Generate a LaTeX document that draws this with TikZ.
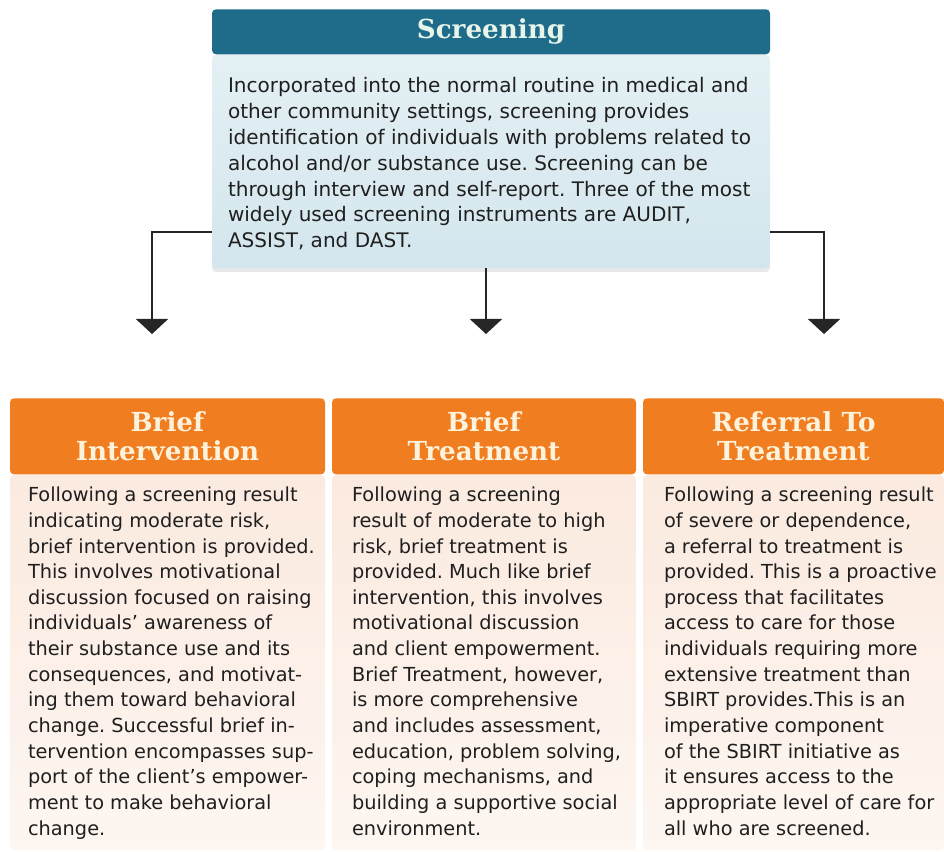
\documentclass[tikz,border=0pt]{standalone}
\usepackage{fontspec}
\setmainfont{DejaVu Sans}
\newfontfamily\headfont{DejaVu Serif}
\usetikzlibrary{arrows.meta, positioning, shadows}
\definecolor{tealhd}{HTML}{1E6B8A}
\definecolor{bluebg}{HTML}{D3E6ED}
\definecolor{bluetop}{HTML}{E4F0F4}
\definecolor{orangehd}{HTML}{F07D1F}
\definecolor{peachtop}{HTML}{FBEADF}
\definecolor{peachbot}{HTML}{FDF6F1}
\definecolor{creamtxt}{HTML}{FDF3DC}
\definecolor{paletxt}{HTML}{E6F4EA}
\tikzset{
    cabeza/.style={minimum height=1.52cm, inner sep=0pt, rounded corners=0.08cm, align=center,
        text=creamtxt, font=\headfont\bfseries\fontsize{14.9}{16.4}\selectfont},
    cuerpo/.style={minimum height=7.5cm, inner sep=0pt, rounded corners=0.08cm,
        top color=peachtop, bottom color=peachbot},
    texto/.style={inner sep=0pt, align=left, text=black!88, font=\fontsize{11}{14.6}\selectfont},
    flecha/.style={line width=1.2pt, draw=black!85, -{Triangle[width=0.64cm, length=0.3cm]}},
}
\frenchspacing

\begin{document}
\begin{tikzpicture}
\useasboundingbox (0,0) rectangle (18.88,-17.04);

% Caja superior: Screening
\node[minimum width=11.16cm, minimum height=4.26cm, inner sep=0pt, rounded corners=0.08cm,
      top color=bluetop, bottom color=bluebg,
      drop shadow={shadow xshift=0pt, shadow yshift=-0.08cm, opacity=0.18}] (screen) at (9.82,-3.23) {};
\node[cabeza, fill=tealhd, minimum width=11.16cm, minimum height=0.9cm, text=paletxt,
      above=0pt of screen] (screenhead) {Screening};
\node[texto, font=\fontsize{11.4}{14.7}\selectfont,
      below right=0.45cm and 0.32cm of screen.north west] (screentext) {%
Incorporated into the normal routine in medical and\\
other community settings, screening provides\\
identification of individuals with problems related to\\
alcohol and/or substance use. Screening can be\\
through interview and self-report. Three of the most\\
widely used screening instruments are AUDIT,\\
ASSIST, and DAST.};

% Cuadro 1: Brief Intervention
\node[cuerpo, minimum width=6.3cm] (bi) at (3.35,-13.25) {};
\node[cabeza, fill=orangehd, minimum width=6.3cm, above=0pt of bi] (bihead) {Brief\\Intervention};
\node[texto, below right=0.24cm and 0.36cm of bi.north west] (bitext) {%
Following a screening result\\
indicating moderate risk,\\
brief intervention is provided.\\
This involves motivational\\
discussion focused on raising\\
individuals’ awareness of\\
their substance use and its\\
consequences, and motivat-\\
ing them toward behavioral\\
change. Successful brief in-\\
tervention encompasses sup-\\
port of the client’s empower-\\
ment to make behavioral\\
change.};

% Cuadro 2: Brief Treatment
\node[cuerpo, minimum width=6.08cm] (bt) at (9.68,-13.25) {};
\node[cabeza, fill=orangehd, minimum width=6.08cm, above=0pt of bt] (bthead) {Brief\\Treatment};
\node[texto, below right=0.24cm and 0.4cm of bt.north west] (bttext) {%
Following a screening\\
result of moderate to high\\
risk, brief treatment is\\
provided. Much like brief\\
intervention, this involves\\
motivational discussion\\
and client empowerment.\\
Brief Treatment, however,\\
is more comprehensive\\
and includes assessment,\\
education, problem solving,\\
coping mechanisms, and\\
building a supportive social\\
environment.};

% Cuadro 3: Referral To Treatment
\node[cuerpo, minimum width=6.02cm] (rt) at (15.87,-13.25) {};
\node[cabeza, fill=orangehd, minimum width=6.02cm, above=0pt of rt] (rthead) {Referral To\\Treatment};
\node[texto, below right=0.24cm and 0.42cm of rt.north west] (rttext) {%
Following a screening result\\
of severe or dependence,\\
a referral to treatment is\\
provided. This is a proactive\\
process that facilitates\\
access to care for those\\
individuals requiring more\\
extensive treatment than\\
SBIRT provides.This is an\\
imperative component\\
of the SBIRT initiative as\\
it ensures access to the\\
appropriate level of care for\\
all who are screened.};

% Flechas
\coordinate (biin) at (3.04,-6.68);
\coordinate (btin) at (9.72,-6.68);
\coordinate (rtin) at (16.48,-6.68);
\draw[flecha] (screen.west |- 0,-4.64) -| (biin);
\draw[flecha] (screen.south -| btin) -- (btin);
\draw[flecha] (screen.east |- 0,-4.64) -| (rtin);
\end{tikzpicture}
\end{document}
